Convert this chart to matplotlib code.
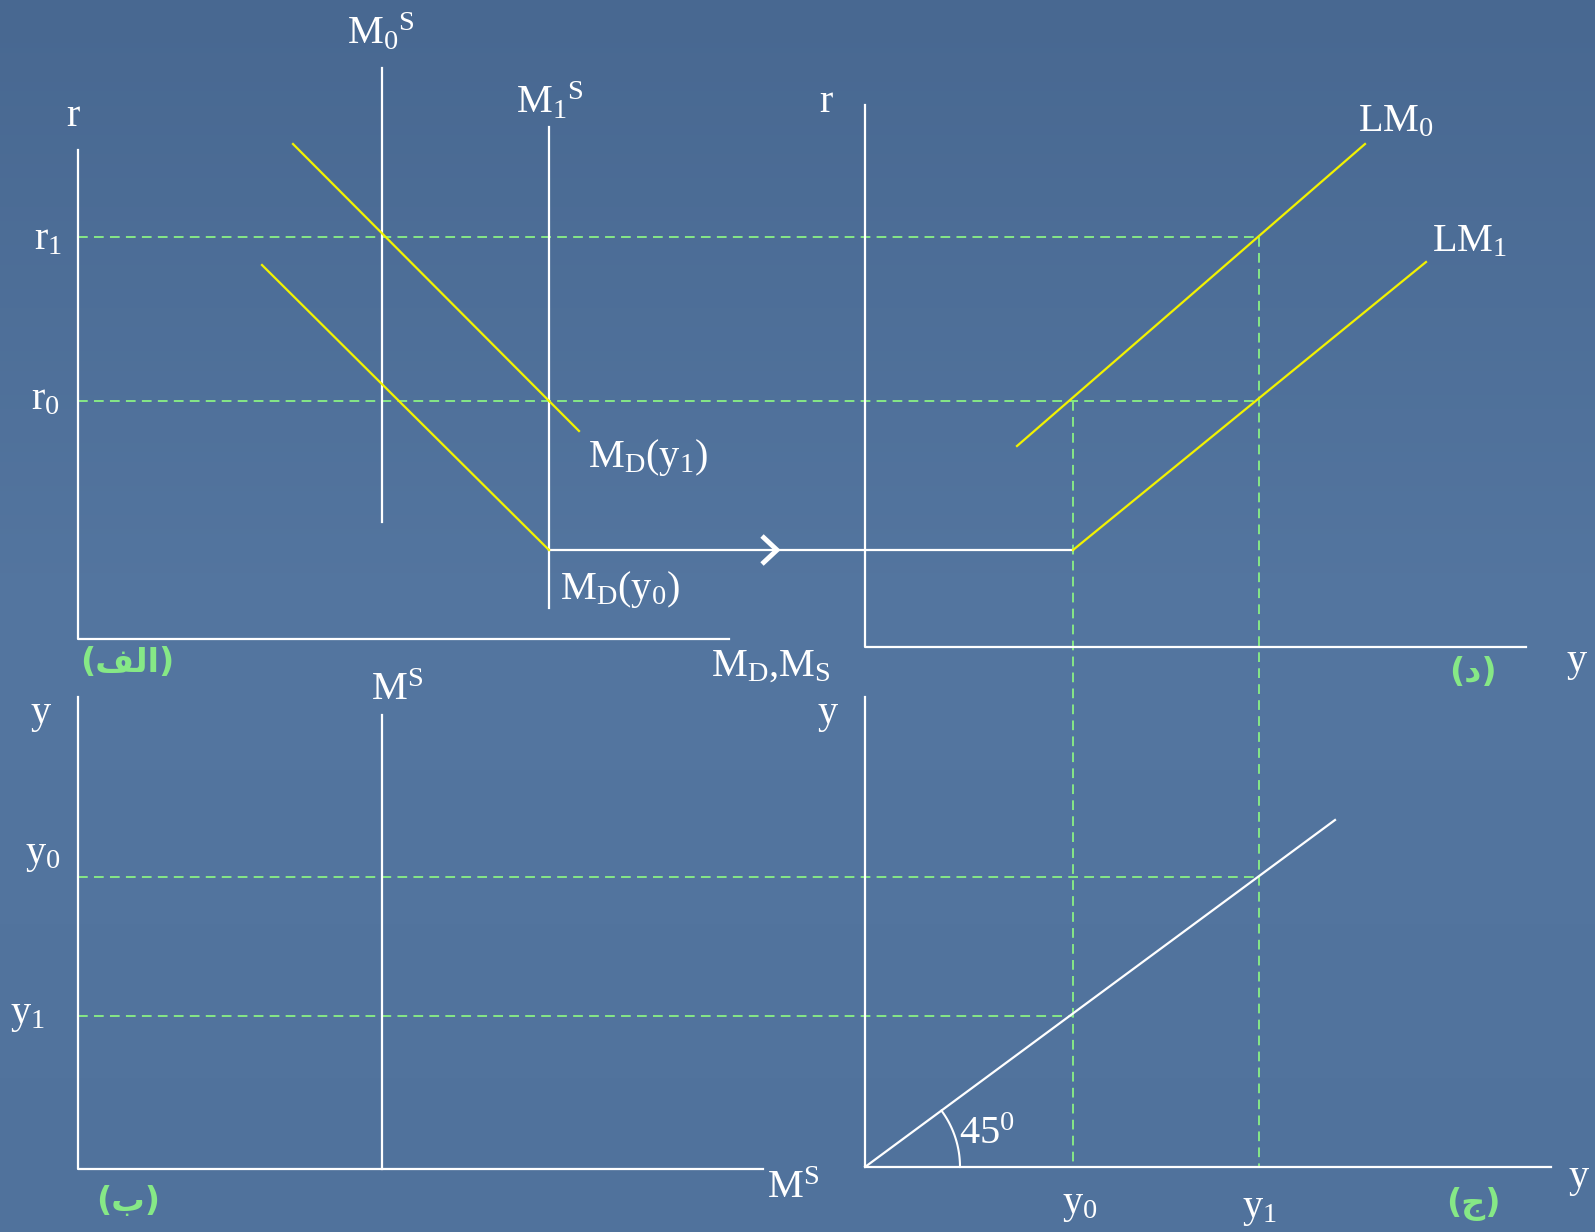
import numpy as np
import matplotlib
matplotlib.use('Agg')
import matplotlib.pyplot as plt

# -----------------------------------------------------------------------------
# levels of the diagram (pixel units of the slide)
r1_lvl, r0_lvl = 237, 401          # interest rate levels
y0_lvl, y1_lvl = 877, 1016         # income levels on panel b / c
y0_x, y1_x = 1073, 1259            # income levels on the y axis of panels d / c
m0s_x, m1s_x = 382, 549            # money supply lines

# axes of the four panels: (x_left, y_top, y_bottom, x_right)
panel_axes = {
    'alef': (78, 150, 639, 729),
    'dal': (865, 105, 647, 1526),
    'be': (78, 697, 1169, 763),
    'jim': (865, 697, 1167, 1551),
}

# curves
md_y1 = ([293, 579], [144, 431])
md_y0 = ([262, 549, y0_x], [265, 550, 550])
lm0 = ([1017, 1365], [446, 144])
lm1 = ([y0_x, 1426], [550, 262])
line45 = ([865, 1335], [1167, 820])
m0s = ([m0s_x, m0s_x], [68, 522])
m1s = ([m1s_x, m1s_x], [127, 608])
ms = ([m0s_x, m0s_x], [715, 1169])

# -----------------------------------------------------------------------------
plt.rcParams['mathtext.fontset'] = 'custom'
plt.rcParams['mathtext.rm'] = 'Liberation Serif'
plt.rcParams['mathtext.it'] = 'Liberation Serif:italic'
plt.rcParams['lines.scale_dashes'] = False

W, H = 1595, 1232
fig = plt.figure(figsize=(W / 100, H / 100), dpi=100)
ax = fig.add_axes([0, 0, 1, 1])
ax.set_xlim(0, W)
ax.set_ylim(H, 0)
ax.axis('off')

# background gradient (darker at the top)
top = np.array([72, 104, 145]) / 255
mid = np.array([84, 118, 160]) / 255
bot = np.array([80, 114, 156]) / 255
t = np.linspace(0, 1, 256)[:, None]
g = np.where(t < 0.5, top + (mid - top) * (t / 0.5), mid + (bot - mid) * ((t - 0.5) / 0.5))
img = np.repeat(g[:, None, :], 2, axis=1)
ax.imshow(img, extent=[0, W, H, 0], aspect='auto', zorder=0)

white = 'white'
yellow = '#F2F200'
green = '#86E886'
lw_axis = 1.6

for key, (xl, yt, yb, xr) in panel_axes.items():
    ax.plot([xl, xl, xr], [yt, yb, yb], color=white, lw=lw_axis, zorder=3)

dash = dict(color=green, lw=1.4, dashes=(7, 4.5), zorder=2)
ax.plot([78, y1_x], [r1_lvl, r1_lvl], **dash)
ax.plot([78, y1_x], [r0_lvl, r0_lvl], **dash)
ax.plot([78, y1_x], [y0_lvl, y0_lvl], **dash)
ax.plot([78, y0_x], [y1_lvl, y1_lvl], **dash)
ax.plot([y0_x, y0_x], [r0_lvl, 1167], **dash)
ax.plot([y1_x, y1_x], [r1_lvl, 1167], **dash)

for xs, ys in (m0s, m1s, ms):
    ax.plot(xs, ys, color=white, lw=lw_axis, zorder=3)
ax.plot(*md_y1, color=yellow, lw=1.6, zorder=4)
ax.plot(md_y0[0][:2], md_y0[1][:2], color=yellow, lw=1.6, zorder=4)
ax.plot(md_y0[0][1:], md_y0[1][1:], color=white, lw=lw_axis, zorder=3)
ax.plot(*lm0, color=yellow, lw=1.6, zorder=4)
ax.plot(*lm1, color=yellow, lw=1.6, zorder=4)
ax.plot(*line45, color=white, lw=lw_axis, zorder=3)

# chevron on the horizontal link
ax.plot([762, 777, 762], [536, 550, 564], color=white, lw=3.5,
        solid_joinstyle='miter', solid_capstyle='butt', zorder=4)

# 45 degree arc
ang = np.arctan2(1167 - 820, 1335 - 865)
th = np.linspace(0, ang, 40)
ax.plot(865 + 95 * np.cos(th), 1167 - 95 * np.sin(th),
        color=white, lw=1.5, zorder=4)

serif = 'Liberation Serif'
fs = 29
labels = [
    (73, 117, 'r'),
    (48, 240, r'$\mathrm{r_1}$'),
    (45, 400, r'$\mathrm{r_0}$'),
    (381, 33, r'$\mathrm{M_0{}^S}$'),
    (550, 102, r'$\mathrm{M_1{}^S}$'),
    (826, 103, 'r'),
    (1396, 122, r'$\mathrm{LM_0}$'),
    (1470, 242, r'$\mathrm{LM_1}$'),
    (648, 458, r'$\mathrm{M_D(y_1)}$'),
    (620, 589, r'$\mathrm{M_D(y_0)}$'),
    (771, 666, r'$\mathrm{M_D{,}M_S}$'),
    (1577, 662, 'y'),
    (41, 713, 'y'),
    (397, 690, r'$\mathrm{M^S}$'),
    (828, 713, 'y'),
    (43, 856, r'$\mathrm{y_0}$'),
    (27, 1016, r'$\mathrm{y_1}$'),
    (793, 1188, r'$\mathrm{M^S}$'),
    (1080, 1206, r'$\mathrm{y_0}$'),
    (1259, 1210, r'$\mathrm{y_1}$'),
    (1579, 1178, 'y'),
    (987, 1135, r'$\mathrm{45^0}$'),
]
for x, y, s in labels:
    ax.text(x, y, s, ha='center', va='center', color=white, fontsize=fs,
            family=serif, zorder=5)

# Arabic panel names (presentation forms, drawn in visual order)
arabic = [
    (127, 662, '(\uFED2\uFEDF\uFE8D)'),
    (1473, 673, '(\uFEA9)'),
    (128, 1201, '(\uFE8F)'),
    (1473, 1204, '(\uFE9D)'),
]
for x, y, s in arabic:
    ax.text(x, y, s, ha='center', va='center', color=green, fontsize=24,
            fontweight='bold', family=['DejaVu Sans'], zorder=5)

fig.savefig('out.png', dpi=100)
